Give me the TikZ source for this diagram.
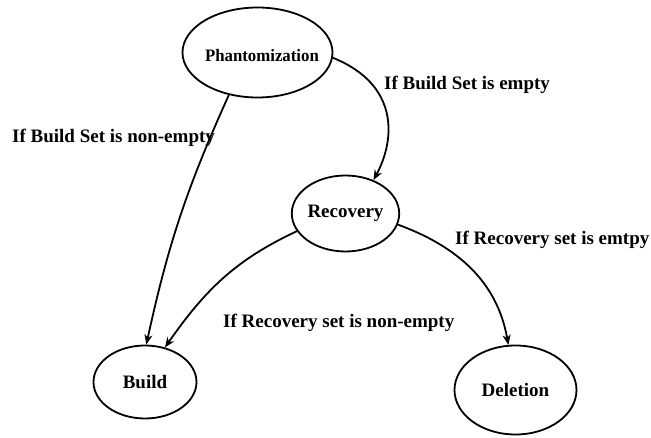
\documentclass[tikz,border=0pt]{standalone}
\usepackage{fontspec}
\setmainfont{Liberation Serif}
\usetikzlibrary{arrows.meta,shapes.geometric}
\begin{document}
\begin{tikzpicture}[x=1pt,y=1pt,
  st/.style={draw,ellipse,line width=1.8pt,inner sep=0pt,font=\fontsize{19}{22}\selectfont\bfseries},
  lbl/.style={font=\fontsize{19}{22}\selectfont\bfseries,anchor=base west,inner sep=0pt},
  edge/.style={line width=1.8pt,-{Stealth[length=10pt,width=8pt,inset=3pt]}}]
\useasboundingbox (0,0) rectangle (651,-438);
\node[st,minimum width=150pt,minimum height=90pt] (P) at (257.5,-52.5) {\makebox[0pt][l]{\hspace*{-52.5pt}\raisebox{-9pt}[0pt][0pt]{\fontsize{17.5}{20}\selectfont\scalebox{0.96}[1]{Phantomization}}}};
\node[st,minimum width=104pt,minimum height=76pt] (R) at (345.5,-213.5) {Recovery};
\node[st,minimum width=103pt,minimum height=73pt] (B) at (145,-382) {Build};
\node[st,minimum width=122pt,minimum height=89pt] (D) at (515.5,-390) {Deletion};
\draw[edge] (P.-4) .. controls (400,-85) and (395,-140) .. (R.50);
\draw[edge] (P.-124) to[bend right=6] (B.88);
\draw[edge] (R.200) to[out=205,in=55] (B.60);
\draw[edge] (R.-12) to[out=-20,in=100] (D.99);
\node[lbl] (l1) at (384,-90) {If Build Set is empty};
\node[lbl] (l2) at (12,-143) {If Build Set is non-empty};
\node[lbl] (l3) at (223,-328) {If Recovery set is non-empty};
\node[lbl] (l4) at (455,-245) {If Recovery set is emtpy};
\end{tikzpicture}
\end{document}
